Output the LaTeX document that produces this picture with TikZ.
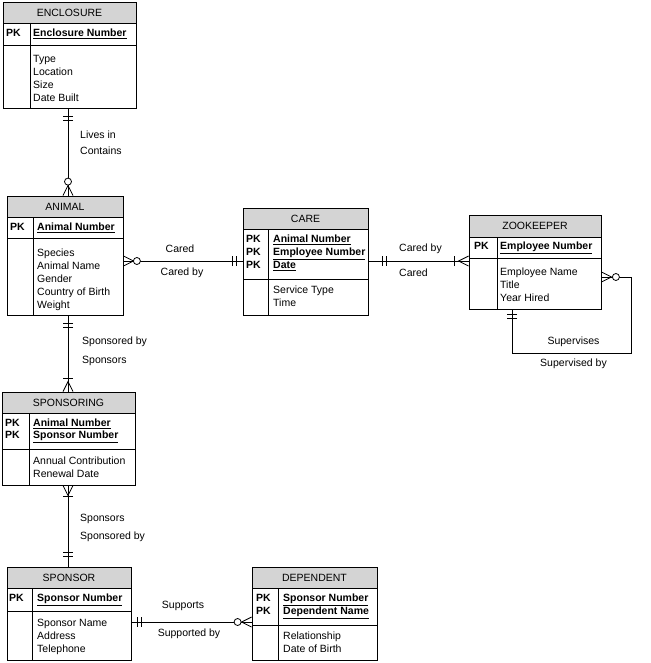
\documentclass[tikz,border=0pt]{standalone}
\usepackage{fontspec}
\setmainfont{Liberation Sans}
\definecolor{hdrgray}{RGB}{212,212,212}
\tikzset{
  er/.style={line width=0.8pt},
  entframe/.style={draw=black, line width=0.8pt, inner sep=0pt},
  txt/.style={inner sep=0pt, align=left, anchor=north west, font=\fontsize{10.5}{13}\selectfont},
  ttl/.style={inner sep=0pt, font=\fontsize{10.5}{13}\selectfont},
  lbl/.style={inner sep=0pt, font=\fontsize{10.5}{13}\selectfont},
}
% name, left, top, right, bottom, header bottom, key bottom, divider x
\newcommand\erbox[8]{%
  \fill[hdrgray] (#2,#3) rectangle (#4,#6);
  \node[entframe, minimum width={#4-#2}, minimum height={#5-#3}] (#1) at ({(#2+#4)/2},{(#3+#5)/2}) {};
  \draw[er] (#2,#6) -- (#4,#6) (#2,#7) -- (#4,#7) (#8,#6) -- (#8,#5);
}
\newcommand\barsym[3]{\begin{scope}[shift={#1},rotate=#2]\draw[er] (#3,-5) -- (#3,5);\end{scope}}
\newcommand\crowsym[2]{\begin{scope}[shift={#1},rotate=#2]\draw[er] (0,-5) -- (10,0) -- (0,5);\end{scope}}
\newcommand\ringsym[3]{\begin{scope}[shift={#1},rotate=#2]\draw[er,fill=white] (#3,0) circle[radius=3.5pt];\end{scope}}
\begin{document}
\begin{tikzpicture}[x=1pt,y=-1pt]
\useasboundingbox (0,0) rectangle (650,663);

% ---------- entities ----------
\erbox{enc}{3}{2}{136}{108}{23}{45}{30}
\node[ttl] (enc-t) at (69.5,12.5) {ENCLOSURE};
\node[txt] (enc-pk) at (6,29) {\bfseries PK};
\node[txt] (enc-k) at (33,29) {\bfseries\underline{Enclosure Number}};
\node[txt] (enc-a) at (33,55) {Type\\Location\\Size\\Date Built};

\erbox{anim}{7}{196}{123}{315}{217}{238}{33}
\node[ttl] (anim-t) at (65,206.5) {ANIMAL};
\node[txt] (anim-pk) at (10,223) {\bfseries PK};
\node[txt] (anim-k) at (37,223) {\bfseries\underline{Animal Number}};
\node[txt] (anim-a) at (37,249) {Species\\Animal Name\\Gender\\Country of Birth\\Weight};

\erbox{care}{243}{208}{368}{315}{229}{279}{268}
\node[ttl] (care-t) at (305.5,218.5) {CARE};
\node[txt] (care-pk) at (246,235) {\bfseries PK\\\bfseries PK\\\bfseries PK};
\node[txt] (care-k) at (273,235) {\bfseries\underline{Animal Number}\\\bfseries\underline{Employee Number}\\\bfseries\underline{Date}};
\node[txt] (care-a) at (273,286) {Service Type\\Time};

\erbox{zoo}{469}{215}{601}{309}{237}{258}{497}
\node[ttl] (zoo-t) at (535,226) {ZOOKEEPER};
\node[txt] (zoo-pk) at (474,242) {\bfseries PK};
\node[txt] (zoo-k) at (500,242) {\bfseries\underline{Employee Number}};
\node[txt] (zoo-a) at (500,268) {Employee Name\\Title\\Year Hired};

\erbox{sprg}{2}{392}{135}{485}{413}{449}{29}
\node[ttl] (sprg-t) at (68.5,402.5) {SPONSORING};
\node[txt] (sprg-pk) at (5,419) {\bfseries PK\\[-1pt]\bfseries PK};
\node[txt] (sprg-k) at (33,419) {\bfseries\underline{Animal Number}\\[-1pt]\bfseries\underline{Sponsor Number}};
\node[txt] (sprg-a) at (33,457) {Annual Contribution\\Renewal Date};

\erbox{spon}{7}{567}{131}{660}{588}{611}{32}
\node[ttl] (spon-t) at (69,577.5) {SPONSOR};
\node[txt] (spon-pk) at (9,594) {\bfseries PK};
\node[txt] (spon-k) at (37,594) {\bfseries\underline{Sponsor Number}};
\node[txt] (spon-a) at (37,619) {Sponsor Name\\Address\\Telephone};

\erbox{dep}{252}{567}{377}{660}{588}{625}{278}
\node[ttl] (dep-t) at (314.5,577.5) {DEPENDENT};
\node[txt] (dep-pk) at (256,594) {\bfseries PK\\\bfseries PK};
\node[txt] (dep-k) at (283,594) {\bfseries\underline{Sponsor Number}\\\bfseries\underline{Dependent Name}};
\node[txt] (dep-a) at (283,632) {Relationship\\Date of Birth};

% ---------- relationships ----------
% ENCLOSURE - ANIMAL
\draw[er] (68,0 |- enc.south) -- (68,0 |- anim.north);
\barsym{(68,0 |- enc.south)}{-90}{8}
\barsym{(68,0 |- enc.south)}{-90}{12}
\crowsym{(68,0 |- anim.north)}{90}
\ringsym{(68,0 |- anim.north)}{90}{14}
\node[lbl,anchor=west] (l1a) at (80,135) {Lives in};
\node[lbl,anchor=west] (l1b) at (80,151) {Contains};

% ANIMAL - CARE
\draw[er] (anim.east |- 0,261) -- (care.west |- 0,261);
\crowsym{(anim.east |- 0,261)}{0}
\ringsym{(anim.east |- 0,261)}{0}{13.5}
\barsym{(care.west |- 0,261)}{180}{6}
\barsym{(care.west |- 0,261)}{180}{10}
\node[lbl] (l2a) at (180,249) {Cared};
\node[lbl] (l2b) at (182,273) {Cared by};

% CARE - ZOOKEEPER
\draw[er] (care.east |- 0,261) -- (zoo.west |- 0,261);
\barsym{(care.east |- 0,261)}{0}{14}
\barsym{(care.east |- 0,261)}{0}{18}
\crowsym{(zoo.west |- 0,261)}{180}
\barsym{(zoo.west |- 0,261)}{180}{14}
\node[lbl,anchor=west] (l3a) at (399,249) {Cared by};
\node[lbl,anchor=west] (l3b) at (399,273) {Cared};

% ZOOKEEPER self relationship
\coordinate (loopA) at (512,353);
\coordinate (loopB) at (631,277);
\draw[er] (512,0 |- zoo.south) -- (loopA) -| (loopB) -- (zoo.east |- loopB);
\barsym{(512,0 |- zoo.south)}{-90}{5}
\barsym{(512,0 |- zoo.south)}{-90}{9}
\crowsym{(zoo.east |- loopB)}{0}
\ringsym{(zoo.east |- loopB)}{0}{14.5}
\node[lbl] (l4a) at (573.5,342) {Supervises};
\node[lbl] (l4b) at (573.5,364) {Supervised by};

% ANIMAL - SPONSORING
\draw[er] (68,0 |- anim.south) -- (68,0 |- sprg.north);
\barsym{(68,0 |- anim.south)}{-90}{8}
\barsym{(68,0 |- anim.south)}{-90}{12}
\crowsym{(68,0 |- sprg.north)}{90}
\barsym{(68,0 |- sprg.north)}{90}{13}
\node[lbl,anchor=west] (l5a) at (82,342) {Sponsored by};
\node[lbl,anchor=west] (l5b) at (82,361) {Sponsors};

% SPONSORING - SPONSOR
\draw[er] (68,0 |- sprg.south) -- (68,0 |- spon.north);
\crowsym{(68,0 |- sprg.south)}{-90}
\barsym{(68,0 |- sprg.south)}{-90}{11}
\barsym{(68,0 |- spon.north)}{90}{10}
\barsym{(68,0 |- spon.north)}{90}{14}
\node[lbl,anchor=west] (l6a) at (80,519) {Sponsors};
\node[lbl,anchor=west] (l6b) at (80,537) {Sponsored by};

% SPONSOR - DEPENDENT
\draw[er] (spon.east |- 0,622) -- (dep.west |- 0,622);
\barsym{(spon.east |- 0,622)}{0}{6}
\barsym{(spon.east |- 0,622)}{0}{10}
\crowsym{(dep.west |- 0,622)}{180}
\ringsym{(dep.west |- 0,622)}{180}{14}
\node[lbl] (l7a) at (183,606) {Supports};
\node[lbl] (l7b) at (189,634) {Supported by};
\end{tikzpicture}
\end{document}
